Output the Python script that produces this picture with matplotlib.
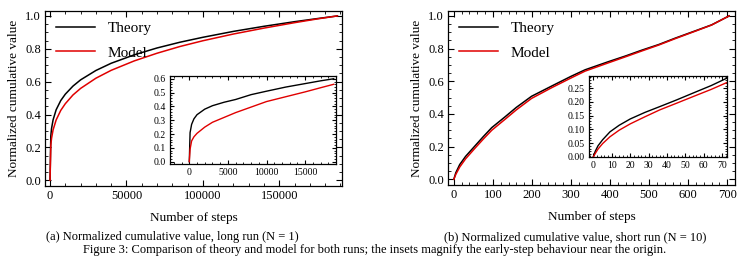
import matplotlib
matplotlib.use("Agg")
import matplotlib.pyplot as plt
from matplotlib.ticker import MultipleLocator

plt.rcParams['font.family'] = ['Liberation Serif', 'DejaVu Serif']
plt.rcParams['mathtext.fontset'] = 'stix'

# panel (a): full run
a_x = [0, 500, 1000, 2000, 4000, 7000, 10000, 15000, 20000, 30000, 40000,
       55000, 70000, 85000, 100000, 120000, 140000, 160000, 175000, 188000]
a_theory = [0, 0.27, 0.316, 0.368, 0.429, 0.485, 0.524, 0.573, 0.611, 0.668, 0.712,
            0.763, 0.805, 0.840, 0.870, 0.906, 0.937, 0.965, 0.984, 1.0]
a_model = [0, 0.214, 0.256, 0.307, 0.367, 0.425, 0.466, 0.519, 0.559, 0.621, 0.669,
           0.726, 0.773, 0.814, 0.849, 0.890, 0.926, 0.959, 0.982, 1.0]

# panel (a) inset: early steps
ai_x = [0, 100, 300, 600, 1000, 2000, 3000, 4500, 6000, 8000, 10000, 12500, 15000, 17000, 18700]
ai_theory = [0, 0.21, 0.27, 0.31, 0.34, 0.38, 0.405, 0.43, 0.45, 0.485, 0.51, 0.54, 0.565, 0.585, 0.60]
ai_model = [0, 0.09, 0.15, 0.18, 0.205, 0.25, 0.285, 0.32, 0.355, 0.395, 0.435, 0.47, 0.505, 0.535, 0.56]

# panel (b): full run
b_x = [0, 5, 15, 30, 54, 75, 97, 130, 160, 199, 250, 300, 336, 396, 440, 481, 525, 566, 620, 660, 705]
b_theory = [0, 0.04, 0.09, 0.14, 0.204, 0.26, 0.316, 0.38, 0.44, 0.508, 0.57, 0.63, 0.67,
            0.72, 0.755, 0.79, 0.825, 0.863, 0.91, 0.945, 1.0]
b_model = [0, 0.03, 0.075, 0.125, 0.19, 0.245, 0.30, 0.365, 0.425, 0.495, 0.56, 0.62, 0.662,
           0.713, 0.75, 0.785, 0.822, 0.86, 0.908, 0.944, 1.0]

# panel (b) inset: early steps
bi_x = [0, 1, 2.5, 5, 9, 14, 20, 28, 36, 45, 55, 64, 72.5]
bi_theory = [0, 0.02, 0.04, 0.062, 0.091, 0.115, 0.138, 0.162, 0.183, 0.207, 0.235, 0.26, 0.287]
bi_model = [0, 0.012, 0.028, 0.048, 0.073, 0.097, 0.12, 0.146, 0.171, 0.195, 0.222, 0.246, 0.271]

W, H = 750, 256
RED = '#e00000'


def box(l, t, r, b):
    return [l / W, 1 - b / H, (r - l) / W, (b - t) / H]


def frame(ax, size):
    ax.tick_params(which='both', direction='in', top=True, right=True,
                   labelsize=size, pad=3)
    ax.tick_params(which='major', length=4, width=0.8)
    ax.tick_params(which='minor', length=2, width=0.6)
    for s in ax.spines.values():
        s.set_linewidth(0.9)


fig = plt.figure(figsize=(7.5, 2.56), dpi=100)

# ---- (a)
ax = fig.add_axes(box(45, 11, 342, 186))
ax.plot(a_x, a_theory, color='black', lw=1.1, label='Theory')
ax.plot(a_x, a_model, color=RED, lw=1.1, label='Model')
ax.set_xlim(-3300, 191000)
ax.set_ylim(-0.035, 1.03)
ax.set_xticks([0, 50000, 100000, 150000])
ax.xaxis.set_minor_locator(MultipleLocator(10000))
ax.set_yticks([0, 0.2, 0.4, 0.6, 0.8, 1.0])
ax.yaxis.set_minor_locator(MultipleLocator(0.05))
frame(ax, 9)
ax.set_xlabel('Number of steps', fontsize=9.5, labelpad=7)
ax.set_ylabel('Normalized cumulative value', fontsize=9.5, labelpad=4)
ax.legend(loc='upper left', frameon=False, fontsize=11, handlelength=2.6,
          labelspacing=0.7, borderaxespad=0.3)

axi = fig.add_axes(box(170, 76, 336, 164))
axi.plot(ai_x, ai_theory, color='black', lw=1.0)
axi.plot(ai_x, ai_model, color=RED, lw=1.0)
axi.set_xlim(-2500, 19000)
axi.set_ylim(-0.017, 0.62)
axi.set_xticks([0, 5000, 10000, 15000])
axi.xaxis.set_minor_locator(MultipleLocator(1000))
axi.set_yticks([0, 0.1, 0.2, 0.3, 0.4, 0.5, 0.6])
axi.yaxis.set_minor_locator(MultipleLocator(0.02))
frame(axi, 7)
axi.tick_params(which='major', length=3)
axi.tick_params(which='minor', length=1.5)

# ---- (b)
bx = fig.add_axes(box(448, 11, 735, 185))
bx.plot(b_x, b_theory, color='black', lw=1.1, label='Theory')
bx.plot(b_x, b_model, color=RED, lw=1.1, label='Model')
bx.set_xlim(-15, 720)
bx.set_ylim(-0.035, 1.03)
bx.set_xticks(range(0, 701, 100))
bx.xaxis.set_minor_locator(MultipleLocator(20))
bx.set_yticks([0, 0.2, 0.4, 0.6, 0.8, 1.0])
bx.yaxis.set_minor_locator(MultipleLocator(0.05))
frame(bx, 9)
bx.set_xlabel('Number of steps', fontsize=9.5, labelpad=7)
bx.set_ylabel('Normalized cumulative value', fontsize=9.5, labelpad=4)
bx.legend(loc='upper left', frameon=False, fontsize=11, handlelength=2.6,
          labelspacing=0.7, borderaxespad=0.3)

bxi = fig.add_axes(box(589, 76, 727, 157))
bxi.plot(bi_x, bi_theory, color='black', lw=1.0)
bxi.plot(bi_x, bi_model, color=RED, lw=1.0)
bxi.set_xlim(-2.4, 72.6)
bxi.set_ylim(-0.001, 0.295)
bxi.set_xticks(range(0, 71, 10))
bxi.xaxis.set_minor_locator(MultipleLocator(2))
bxi.set_yticks([0, 0.05, 0.10, 0.15, 0.20, 0.25])
bxi.yaxis.set_minor_locator(MultipleLocator(0.01))
frame(bxi, 7)
bxi.tick_params(which='major', length=3)
bxi.tick_params(which='minor', length=1.5)

# captions
fig.text(172 / W, 1 - 237 / H, '(a) Normalized cumulative value, long run (N = 1)',
         ha='center', va='center', fontsize=9)
fig.text(575 / W, 1 - 237 / H, '(b) Normalized cumulative value, short run (N = 10)',
         ha='center', va='center', fontsize=9)
fig.text(0.5, 1 - 249.5 / H,
         'Figure 3: Comparison of theory and model for both runs; the insets magnify the early-step behaviour near the origin.',
         ha='center', va='center', fontsize=9)

fig.savefig('out.png', dpi=100)
